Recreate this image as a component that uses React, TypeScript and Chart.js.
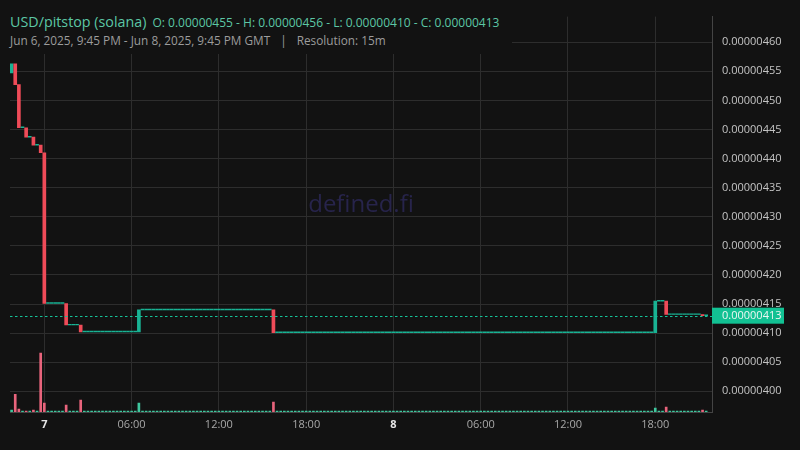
import { useEffect, useRef } from "react";
import Chart from "chart.js/auto";

// prices are stored x1e8 (455 means 0.00000455), one entry per 15m candle
const firstOpen = 454.7;
const closes = [
  456.3, 452.7, 445.3, 445.3, 443.7, 443.7, 442.3, 442.3, 441.0, 415.1, 415.1, 415.1, 415.1, 415.1, 415.1, 411.4,
  411.4, 411.4, 411.4, 410.2, 410.2, 410.2, 410.2, 410.2, 410.2, 410.2, 410.2, 410.2, 410.2, 410.2, 410.2, 410.2,
  410.2, 410.2, 410.2, 414.0, 414.0, 414.0, 414.0, 414.0, 414.0, 414.0, 414.0, 414.0, 414.0, 414.0, 414.0, 414.0,
  414.0, 414.0, 414.0, 414.0, 414.0, 414.0, 414.0, 414.0, 414.0, 414.0, 414.0, 414.0, 414.0, 414.0, 414.0, 414.0,
  414.0, 414.0, 414.0, 414.0, 414.0, 414.0, 414.0, 414.0, 410.1, 410.1, 410.1, 410.1, 410.1, 410.1, 410.1, 410.1,
  410.1, 410.1, 410.1, 410.1, 410.1, 410.1, 410.1, 410.1, 410.1, 410.1, 410.1, 410.1, 410.1, 410.1, 410.1, 410.1,
  410.1, 410.1, 410.1, 410.1, 410.1, 410.1, 410.1, 410.1, 410.1, 410.1, 410.1, 410.1, 410.1, 410.1, 410.1, 410.1,
  410.1, 410.1, 410.1, 410.1, 410.1, 410.1, 410.1, 410.1, 410.1, 410.1, 410.1, 410.1, 410.1, 410.1, 410.1, 410.1,
  410.1, 410.1, 410.1, 410.1, 410.1, 410.1, 410.1, 410.1, 410.1, 410.1, 410.1, 410.1, 410.1, 410.1, 410.1, 410.1,
  410.1, 410.1, 410.1, 410.1, 410.1, 410.1, 410.1, 410.1, 410.1, 410.1, 410.1, 410.1, 410.1, 410.1, 410.1, 410.1,
  410.1, 410.1, 410.1, 410.1, 410.1, 410.1, 410.1, 410.1, 410.1, 410.1, 410.1, 410.1, 410.1, 410.1, 410.1, 410.1,
  410.1, 415.5, 415.5, 415.5, 413.2, 413.2, 413.2, 413.2, 413.2, 413.2, 413.2, 413.2, 413.2, 413.2, 413.0, 413.0,
];
const volumes = [
  2, 18, 3, 1, 1, 1, 2, 1, 60, 9, 1, 1, 1, 1, 1, 7,
  1, 1, 1, 12, 1, 1, 1, 1, 1, 1, 1, 1, 1, 1, 1, 1,
  1, 1, 1, 9, 1, 1, 1, 1, 1, 1, 1, 1, 1, 1, 1, 1,
  1, 1, 1, 1, 1, 1, 1, 1, 1, 1, 1, 1, 1, 1, 1, 1,
  1, 1, 1, 1, 1, 1, 1, 1, 10, 1, 1, 1, 1, 1, 1, 1,
  1, 1, 1, 1, 1, 1, 1, 1, 1, 1, 1, 1, 1, 1, 1, 1,
  1, 1, 1, 1, 1, 1, 1, 1, 1, 1, 1, 1, 1, 1, 1, 1,
  1, 1, 1, 1, 1, 1, 1, 1, 1, 1, 1, 1, 1, 1, 1, 1,
  1, 1, 1, 1, 1, 1, 1, 1, 1, 1, 1, 1, 1, 1, 1, 1,
  1, 1, 1, 1, 1, 1, 1, 1, 1, 1, 1, 1, 1, 1, 1, 1,
  1, 1, 1, 1, 1, 1, 1, 1, 1, 1, 1, 1, 1, 1, 1, 1,
  1, 4, 1, 1, 5, 1, 1, 1, 1, 1, 1, 1, 1, 1, 2, 1,
];
const xTickIndex = [9, 33, 57, 81, 105, 129, 153, 177];
const xTickLabels = ["7", "06:00", "12:00", "18:00", "8", "06:00", "12:00", "18:00"];
const dayLabels = ["7", "8"];
const yTicks = [400, 405, 410, 415, 420, 425, 430, 435, 440, 445, 450, 455, 460];

const UP = "#19b394";
const DOWN = "#ef4b58";
const VOL_UP = "#3fc79e";
const VOL_DOWN = "#e8647c";
const BG = "#121212";
const FONT = "'Open Sans', 'Noto Sans', sans-serif";

const fmt = (v: number) => (v / 1e8).toFixed(8);

const opens = closes.map((_, i) => (i === 0 ? firstOpen : closes[i - 1]));
const lastClose = closes[closes.length - 1];
const highAll = Math.max(firstOpen, ...closes);
const lowAll = Math.min(firstOpen, ...closes);

const watermark = {
  id: "watermark",
  beforeDatasetsDraw(chart: any) {
    const { ctx, chartArea } = chart;
    ctx.save();
    ctx.font = `24px ${FONT}`;
    ctx.fillStyle = "#27244b";
    ctx.textAlign = "center";
    ctx.textBaseline = "middle";
    ctx.fillText("defined.fi", (chartArea.left + chartArea.right) / 2, 205);
    ctx.restore();
  },
};

const lastPrice = {
  id: "lastPrice",
  afterDatasetsDraw(chart: any) {
    const { ctx, chartArea, scales } = chart;
    const y = Math.round(scales.y.getPixelForValue(lastClose)) + 0.5;
    ctx.save();
    ctx.strokeStyle = "#14c399";
    ctx.lineWidth = 1;
    ctx.setLineDash([2.5, 2.5]);
    ctx.beginPath();
    ctx.moveTo(chartArea.left, y);
    ctx.lineTo(chartArea.right, y);
    ctx.stroke();
    ctx.restore();
  },
  afterDraw(chart: any) {
    const { ctx, chartArea, scales } = chart;
    const y = scales.y.getPixelForValue(lastClose);
    ctx.save();
    ctx.fillStyle = "#12c193";
    ctx.fillRect(chartArea.right, y - 8, 72, 16);
    ctx.font = `11px ${FONT}`;
    ctx.fillStyle = "#eef7f3";
    ctx.textBaseline = "middle";
    ctx.fillText(fmt(lastClose), chartArea.right + 10, y);
    ctx.restore();
  },
};

function CandleChart() {
  const canvasRef = useRef<HTMLCanvasElement | null>(null);

  useEffect(() => {
    const canvas = canvasRef.current;
    if (!canvas) return;

    const candleColors = closes.map((c, i) => (c < opens[i] ? DOWN : UP));
    const volColors = closes.map((c, i) => (c < opens[i] ? VOL_DOWN : VOL_UP));

    const chart = new Chart(canvas, {
      type: "bar",
      data: {
        datasets: [
          {
            label: "Volume",
            data: volumes.map((v, i) => ({ x: i, y: v })),
            backgroundColor: volColors,
            borderWidth: 0,
            barThickness: 2,
            minBarLength: 1,
            grouped: false,
            yAxisID: "vol",
          },
          {
            label: "Price",
            data: closes.map((c, i) => ({ x: i, y: [opens[i], c] })),
            backgroundColor: candleColors,
            borderWidth: 0,
            barThickness: 3,
            minBarLength: 0.8,
            grouped: false,
            yAxisID: "y",
          },
        ] as any,
      },
      options: {
        animation: false,
        responsive: true,
        maintainAspectRatio: false,
        layout: { padding: { left: 10, top: 10, right: 0, bottom: 0 } },
        plugins: {
          legend: { display: false },
          tooltip: { enabled: false },
        },
        scales: {
          x: {
            type: "linear",
            offset: false,
            min: -0.44,
            max: 192.6,
            afterBuildTicks: (scale: any) => {
              scale.ticks = xTickIndex.map((v) => ({ value: v }));
            },
            afterFit: (scale: any) => {
              scale.height = 38;
            },
            ticks: {
              padding: 6,
              maxRotation: 0,
              autoSkip: false,
              callback: (_v: any, i: number) => xTickLabels[i],
              color: (ctx: any) => (dayLabels.includes(ctx.tick?.label) ? "#e6e6e6" : "#a8a8a8"),
              font: (ctx: any) => ({
                family: FONT,
                size: 11,
                weight: dayLabels.includes(ctx.tick?.label) ? "bold" : "normal",
              }),
            },
            grid: { color: "#2d2d2d", drawTicks: false, offset: false },
            border: { display: true, color: "#444444" },
          },
          y: {
            position: "right",
            min: 396.45,
            max: 464.4,
            afterBuildTicks: (scale: any) => {
              scale.ticks = yTicks.map((v) => ({ value: v }));
            },
            afterFit: (scale: any) => {
              scale.width = 88;
            },
            ticks: {
              padding: 10,
              color: "#c4c4c4",
              font: { family: FONT, size: 11 },
              callback: (v: any) => fmt(Number(v)),
            },
            grid: { color: "#2d2d2d", drawTicks: false },
            border: { display: true, color: "#444444" },
          },
          vol: {
            display: false,
            min: 0,
            max: 402,
          },
        },
      },
      plugins: [watermark, lastPrice],
    });

    return () => chart.destroy();
  }, []);

  return <canvas ref={canvasRef} />;
}

export default function App() {
  return (
    <div
      style={{
        position: "fixed",
        left: 0,
        top: 0,
        width: 800,
        height: 450,
        background: BG,
        fontFamily: FONT,
      }}
    >
      <div style={{ position: "absolute", inset: 0 }}>
        <CandleChart />
      </div>
      <div
        style={{
          position: "absolute",
          left: 0,
          top: 0,
          width: 512,
          height: 54,
          background: BG,
          whiteSpace: "nowrap",
        }}
      >
        <div style={{ position: "absolute", left: 10, top: 10, color: "#5cc7a5" }}>
          <span style={{ fontSize: 14.3 }}>USD/pitstop (solana)</span>
          <span style={{ fontSize: 12, marginLeft: 6 }}>
            O: {fmt(firstOpen)} - H: {fmt(highAll)} - L: {fmt(lowAll)} - C: {fmt(lastClose)}
          </span>
        </div>
        <div style={{ position: "absolute", left: 10, top: 32, fontSize: 11.8, color: "#9c9c9c" }}>
          <span>Jun 6, 2025, 9:45 PM - Jun 8, 2025, 9:45 PM GMT</span>
          <span style={{ margin: "0 10px" }}>|</span>
          <span>Resolution: 15m</span>
        </div>
      </div>
    </div>
  );
}
